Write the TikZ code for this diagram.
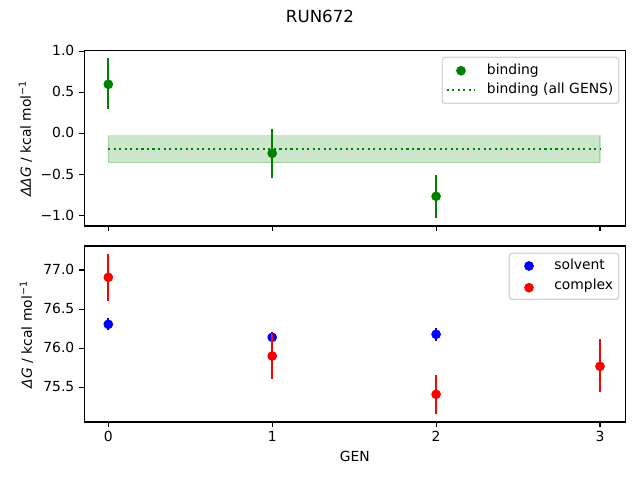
\documentclass[tikz,border=0pt]{standalone}
\usepackage{fontspec}
\setmainfont{DejaVu Sans}
\definecolor{mplgreen}{RGB}{0,128,0}
\definecolor{mplblue}{RGB}{0,0,255}
\definecolor{mplred}{RGB}{255,0,0}
\definecolor{legedge}{RGB}{214,214,214}
\tikzset{
  spine/.style={line width=0.8pt, draw=black},
  tickmark/.style={line width=0.8pt, black},
  ebar/.style={line width=1.5pt},
  dot/.style={radius=3.5pt},
  ticklab/.style={inner sep=0pt, font=\fontsize{10}{12}\selectfont},
  ylab/.style={inner sep=0pt, rotate=90, anchor=base, font=\fontsize{10}{12}\selectfont},
  legbox/.style={draw=legedge, fill=white, line width=1pt, rounded corners=2pt},
  legtext/.style={inner sep=0pt, anchor=base west, font=\fontsize{10}{12}\selectfont},
  mpldotted/.style={line width=1.5pt, dash pattern=on 1.5pt off 2.475pt}
}
\begin{document}
\begin{tikzpicture}[x=0.72pt,y=-0.72pt]
\useasboundingbox (0,0) rectangle (640,480);
% title
\node[inner sep=0pt, anchor=base, font=\fontsize{12}{14}\selectfont] (title) at (320,22) {RUN672};

% ================= top panel =================
\fill[mplgreen, fill opacity=0.2] (108.3,135.7) rectangle (600,162.7);
\draw[mplgreen, opacity=0.2, line width=1pt] (108.3,135.7) rectangle (600,162.7);
\coordinate (avgL) at (108.3,149);
\coordinate (avgR) at (600,149);
\draw[mplgreen, mpldotted] (avgL) -- (avgR);
% error bars
\draw[mplgreen, ebar] (108.3,58.3) -- (108.3,108.7);
\draw[mplgreen, ebar] (272.2,129) -- (272.2,177.7);
\draw[mplgreen, ebar] (436.1,175) -- (436.1,217.7);
\fill[mplgreen] (108.3,84.3) circle[dot];
\fill[mplgreen] (272.2,153.3) circle[dot];
\fill[mplgreen] (436.1,196.3) circle[dot];
% spines
\draw[spine] (84.3,50.7) rectangle (625.3,226);
% y ticks
\foreach \yy/\lab [count=\i] in {51.3/1.0, 92.4/0.5, 133.5/0.0, 174.6/−0.5, 215.7/−1.0}{
  \draw[tickmark] (84.3,\yy) -- ++(-4.86,0);
  \node[ticklab, anchor=base east] (ty\i) at (74.6,\yy+4.4) {\lab};
}
% x ticks (no labels)
\foreach \xx in {108.3,272.2,436.1,600}{
  \draw[tickmark] (\xx,226) -- ++(0,4.86);
}
\node[ylab] (ylabtop) at (30.8,138.5) {\textit{ΔΔG} / kcal mol\textsuperscript{−1}};
% legend
\draw[legbox] (442.3,57.3) rectangle (618.7,103.3);
\fill[mplgreen] (461,70.7) circle[dot];
\coordinate (lgL) at (446.7,90);
\coordinate (lgR) at (475,90);
\draw[mplgreen, mpldotted] (lgL) -- (lgR);
\node[legtext] (lt1) at (486.7,74) {binding};
\node[legtext] (lt2) at (486.7,93.3) {binding (all GENS)};

% ================= bottom panel =================
% solvent (blue)
\draw[mplblue, ebar] (108.3,318.3) -- (108.3,330.3);
\draw[mplblue, ebar] (272.2,331.7) -- (272.2,342.9);
\draw[mplblue, ebar] (436.1,328) -- (436.1,340.6);
\fill[mplblue] (108.3,324.3) circle[dot];
\fill[mplblue] (272.2,337.3) circle[dot];
\fill[mplblue] (436.1,334.3) circle[dot];
% complex (red)
\draw[mplred, ebar] (108.3,254.3) -- (108.3,300.7);
\draw[mplred, ebar] (272.2,333.3) -- (272.2,378.7);
\draw[mplred, ebar] (436.1,375) -- (436.1,414);
\draw[mplred, ebar] (600,339) -- (600,391.7);
\fill[mplred] (108.3,277.3) circle[dot];
\fill[mplred] (272.2,356) circle[dot];
\fill[mplred] (436.1,394.3) circle[dot];
\fill[mplred] (600,366.3) circle[dot];
% spines
\draw[spine] (84.3,246) rectangle (625.3,422);
% y ticks
\foreach \yy/\lab [count=\i] in {270/77.0, 309.1/76.5, 348.2/76.0, 387.3/75.5}{
  \draw[tickmark] (84.3,\yy) -- ++(-4.86,0);
  \node[ticklab, anchor=base east] (by\i) at (74.6,\yy+4.4) {\lab};
}
% x ticks
\foreach \xx/\lab [count=\i] in {108.3/0,272.2/1,436.1/2,600/3}{
  \draw[tickmark] (\xx,422) -- ++(0,4.86);
  \node[ticklab, anchor=base] (bx\i) at (\xx,441.7) {\lab};
}
\node[ticklab, anchor=base] (xlab) at (354.8,461.7) {GEN};
\node[ylab] (ylabbot) at (31.8,334.5) {\textit{ΔG} / kcal mol\textsuperscript{−1}};
% legend
\draw[legbox] (509.3,253.3) rectangle (618.7,299.3);
\fill[mplblue] (529,266) circle[dot];
\fill[mplred] (529,287.7) circle[dot];
\node[legtext] (ls1) at (554,269.3) {solvent};
\node[legtext] (ls2) at (554,289.5) {complex};
\end{tikzpicture}
\end{document}
